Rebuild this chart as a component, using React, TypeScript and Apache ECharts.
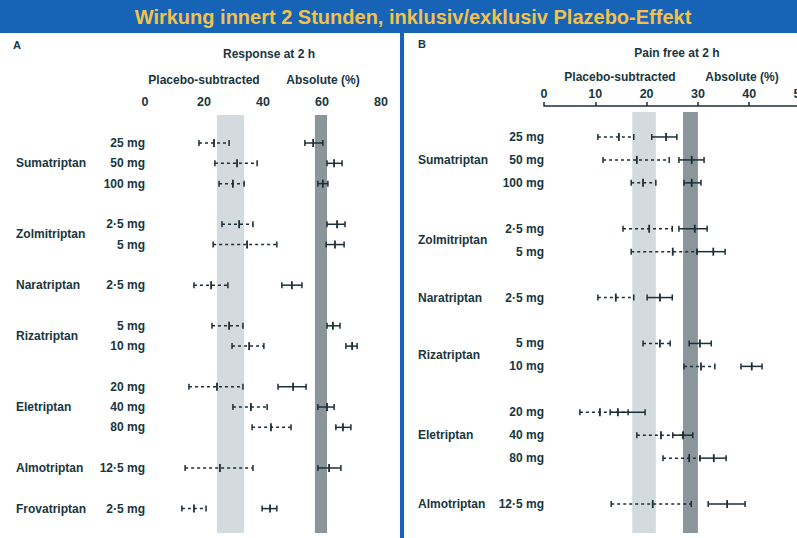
import React, { useEffect, useRef } from "react";
import * as echarts from "echarts";

// ---------- Panel A: Response at 2 h ----------
const drugsA = ["Sumatriptan", "Zolmitriptan", "Naratriptan", "Rizatriptan", "Eletriptan", "Almotriptan", "Frovatriptan"];
const dosesA = [["25 mg", "50 mg", "100 mg"], ["2·5 mg", "5 mg"], ["2·5 mg"], ["5 mg", "10 mg"], ["20 mg", "40 mg", "80 mg"], ["12·5 mg"], ["2·5 mg"]];
// [lower, estimate, upper]
const placeboSubA = [
  [18.3, 23.4, 28.5], [23.7, 31.2, 38.0], [25.1, 29.8, 33.6],
  [26.1, 31.9, 36.6], [23.1, 34.6, 44.7],
  [16.6, 22.4, 28.1],
  [22.7, 28.5, 33.2], [29.5, 35.3, 40.3],
  [14.9, 24.4, 33.2], [29.8, 35.9, 41.4], [36.3, 42.7, 49.5],
  [13.6, 25.4, 36.6],
  [12.5, 16.6, 20.7],
];
const absoluteA = [
  [54.2, 57.0, 60.3], [61.7, 64.1, 66.8], [58.6, 60.3, 62.0],
  [61.7, 65.1, 67.8], [61.4, 64.4, 67.5],
  [46.4, 49.8, 53.2],
  [61.7, 63.7, 66.1], [68.1, 70.2, 71.9],
  [45.1, 50.2, 54.6], [58.6, 61.7, 64.1], [64.7, 67.1, 69.8],
  [58.6, 62.4, 66.4],
  [39.7, 42.4, 44.7],
];
const placeboBandA = [24.4, 33.6];
const absoluteBandA = [57.6, 61.7];
const ticksA = [0, 20, 40, 60, 80];

// ---------- Panel B: Pain free at 2 h ----------
const drugsB = ["Sumatriptan", "Zolmitriptan", "Naratriptan", "Rizatriptan", "Eletriptan", "Almotriptan"];
const dosesB = [["25 mg", "50 mg", "100 mg"], ["2·5 mg", "5 mg"], ["2·5 mg"], ["5 mg", "10 mg"], ["20 mg", "40 mg", "80 mg"], ["12·5 mg"]];
const placeboSubB = [
  [10.5, 14.6, 17.5], [11.5, 18.1, 24.4], [17.0, 19.3, 21.8],
  [15.4, 20.5, 25.0], [17.0, 25.1, 29.8],
  [10.5, 14.0, 17.5],
  [19.3, 22.6, 24.6], [27.3, 30.6, 33.3],
  [7.0, 10.9, 16.4], [18.1, 22.8, 27.1], [23.2, 28.3, 30.4],
  [13.1, 21.2, 28.7],
];
const absoluteB = [
  [21.0, 23.8, 25.9], [26.3, 28.8, 31.2], [27.3, 28.8, 30.6],
  [26.3, 29.4, 31.8], [29.8, 33.0, 35.3],
  [20.1, 22.6, 25.0],
  [28.3, 30.4, 32.6], [38.4, 40.5, 42.5],
  [12.9, 14.4, 19.7], [25.1, 27.1, 29.0], [30.4, 33.1, 35.5],
  [32.0, 35.7, 39.2],
];
const placeboBandB = [17.2, 21.8];
const absoluteBandB = [27.1, 30.0];
const ticksB = [0, 10, 20, 30, 40, 50];

const TEXT = "#183640";
const MARK = "#1c2f36";
const BLUE = "#1763b6";
const FONT = "'Liberation Sans', Arial, sans-serif";

function buildRows(doses: string[][]) {
  const labels: string[] = [];
  const groups: number[][] = [];
  const rowIdx: number[] = [];
  doses.forEach((g, gi) => {
    if (gi > 0) labels.push("");
    const start = labels.length;
    g.forEach((d) => {
      rowIdx.push(labels.length);
      labels.push(d);
    });
    groups.push([start, labels.length - 1]);
  });
  return { labels, groups, rowIdx };
}

function ciRender(dashed: boolean) {
  return (params: any, api: any) => {
    const lo = api.value(0);
    const mid = api.value(1);
    const hi = api.value(2);
    const row = api.value(3);
    const a = api.coord([lo, row]);
    const m = api.coord([mid, row]);
    const b = api.coord([hi, row]);
    const y = a[1];
    const st = { stroke: MARK, lineWidth: 1.5 };
    return {
      type: "group",
      children: [
        { type: "line", shape: { x1: a[0], y1: y, x2: b[0], y2: y }, style: { ...st, lineDash: dashed ? [3, 3] : null } },
        { type: "line", shape: { x1: a[0], y1: y - 3, x2: a[0], y2: y + 3 }, style: st },
        { type: "line", shape: { x1: b[0], y1: y - 3, x2: b[0], y2: y + 3 }, style: st },
        { type: "line", shape: { x1: m[0], y1: y - 4, x2: m[0], y2: y + 4 }, style: { ...st, lineWidth: 1.8 } },
      ],
    };
  };
}

function bandRender(color: string, extTop: number, extBottom: number) {
  return (params: any, api: any) => {
    const cs = params.coordSys;
    const x0 = api.coord([api.value(0), 0])[0];
    const x1 = api.coord([api.value(1), 0])[0];
    return {
      type: "rect",
      shape: { x: x0, y: cs.y - extTop, width: x1 - x0, height: cs.height + extTop + extBottom },
      style: { fill: color },
    };
  };
}

function nameRender(xPix: number, names: string[]) {
  return (params: any, api: any) => {
    const y0 = api.coord([0, api.value(0)])[1];
    const y1 = api.coord([0, api.value(1)])[1];
    return {
      type: "text",
      x: xPix,
      y: (y0 + y1) / 2,
      style: {
        text: names[params.dataIndex],
        fill: TEXT,
        font: `bold 12px ${FONT}`,
        align: "left",
        verticalAlign: "middle",
      },
    };
  };
}

export default function App() {
  const ref = useRef<HTMLDivElement>(null);

  useEffect(() => {
    document.body.style.margin = "0";
    if (!ref.current) return;
    const chart = echarts.init(ref.current, null, { renderer: "svg" });

    const A = buildRows(dosesA);
    const B = buildRows(dosesB);

    const ciData = (vals: number[][], rows: number[]) => vals.map((v, i) => [v[0], v[1], v[2], rows[i]]);

    const axisLabelStyle = { color: TEXT, fontWeight: "bold", fontSize: 12.5, fontFamily: FONT };

    const option: any = {
      animation: false,
      backgroundColor: "#ffffff",
      grid: [
        { left: 145, width: 236, top: 132.85, height: 385.9, outerBoundsMode: "none", containLabel: false },
        { left: 544, width: 256.5, top: 125.5, height: 390, outerBoundsMode: "none", containLabel: false },
      ],
      xAxis: [
        {
          type: "value", gridIndex: 0, min: 0, max: 80, interval: 20, position: "top",
          axisLine: { show: false }, axisTick: { show: false }, splitLine: { show: false },
          axisLabel: { ...axisLabelStyle, margin: 24, formatter: (v: number) => (ticksA.includes(v) ? String(v) : "") },
        },
        {
          type: "value", gridIndex: 1, min: 0, max: 50, interval: 10, position: "top", offset: 19.5,
          axisLine: { show: true, lineStyle: { color: MARK, width: 1.5 } },
          axisTick: { show: true, length: 4, lineStyle: { color: MARK, width: 1.5 } },
          splitLine: { show: false },
          axisLabel: { ...axisLabelStyle, margin: 6, showMaxLabel: true, formatter: (v: number) => (ticksB.includes(v) ? String(v) : "") },
        },
      ],
      yAxis: [
        {
          type: "category", gridIndex: 0, data: A.labels, inverse: true,
          axisLine: { show: false }, axisTick: { show: false }, splitLine: { show: false },
          axisLabel: { color: TEXT, fontWeight: "bold", fontSize: 12, fontFamily: FONT, margin: 0, interval: 0 },
        },
        {
          type: "category", gridIndex: 1, data: B.labels, inverse: true,
          axisLine: { show: false }, axisTick: { show: false }, splitLine: { show: false },
          axisLabel: { color: TEXT, fontWeight: "bold", fontSize: 12, fontFamily: FONT, margin: 0, interval: 0 },
        },
      ],
      series: [
        { type: "custom", xAxisIndex: 0, yAxisIndex: 0, clip: false, z: 1, renderItem: bandRender("#d4dbdf", 17.85, 14.25), data: [placeboBandA] },
        { type: "custom", xAxisIndex: 0, yAxisIndex: 0, clip: false, z: 1, renderItem: bandRender("#8b969b", 17.85, 14.25), data: [absoluteBandA] },
        { type: "custom", xAxisIndex: 1, yAxisIndex: 1, clip: false, z: 1, renderItem: bandRender("#d4dbdf", 13.5, 17.5), data: [placeboBandB] },
        { type: "custom", xAxisIndex: 1, yAxisIndex: 1, clip: false, z: 1, renderItem: bandRender("#8b969b", 13.5, 17.5), data: [absoluteBandB] },
        { type: "custom", xAxisIndex: 0, yAxisIndex: 0, clip: false, z: 3, renderItem: ciRender(true), encode: { x: [0, 1, 2], y: 3 }, data: ciData(placeboSubA, A.rowIdx) },
        { type: "custom", xAxisIndex: 0, yAxisIndex: 0, clip: false, z: 3, renderItem: ciRender(false), encode: { x: [0, 1, 2], y: 3 }, data: ciData(absoluteA, A.rowIdx) },
        { type: "custom", xAxisIndex: 1, yAxisIndex: 1, clip: false, z: 3, renderItem: ciRender(true), encode: { x: [0, 1, 2], y: 3 }, data: ciData(placeboSubB, B.rowIdx) },
        { type: "custom", xAxisIndex: 1, yAxisIndex: 1, clip: false, z: 3, renderItem: ciRender(false), encode: { x: [0, 1, 2], y: 3 }, data: ciData(absoluteB, B.rowIdx) },
        { type: "custom", xAxisIndex: 0, yAxisIndex: 0, clip: false, z: 3, renderItem: nameRender(16, drugsA), encode: { y: [0, 1] }, data: A.groups.map((g) => [g[0], g[1]]) },
        { type: "custom", xAxisIndex: 1, yAxisIndex: 1, clip: false, z: 3, renderItem: nameRender(418, drugsB), encode: { y: [0, 1] }, data: B.groups.map((g) => [g[0], g[1]]) },
      ],
      graphic: [
        { type: "rect", shape: { x: 0, y: 0, width: 797, height: 33 }, style: { fill: BLUE }, z: 0 },
        { type: "rect", shape: { x: 400, y: 33, width: 4, height: 505 }, style: { fill: BLUE }, z: 0 },
        {
          type: "text", x: 413, y: 17,
          style: { text: "Wirkung innert 2 Stunden, inklusiv/exklusiv Plazebo-Effekt", fill: "#f2c24c", font: `bold 20px 'Liberation Sans Narrow', 'Arial Narrow', ${FONT}`, align: "center", verticalAlign: "middle" },
        },
        { type: "text", x: 13, y: 45, style: { text: "A", fill: TEXT, font: `bold 11px ${FONT}`, verticalAlign: "middle" } },
        { type: "text", x: 418, y: 44, style: { text: "B", fill: TEXT, font: `bold 11px ${FONT}`, verticalAlign: "middle" } },
        { type: "text", x: 269, y: 54, style: { text: "Response at 2 h", fill: TEXT, font: `bold 12px ${FONT}`, align: "center", verticalAlign: "middle" } },
        { type: "text", x: 204, y: 80, style: { text: "Placebo-subtracted", fill: TEXT, font: `bold 12px ${FONT}`, align: "center", verticalAlign: "middle" } },
        { type: "text", x: 323, y: 80, style: { text: "Absolute (%)", fill: TEXT, font: `bold 12px ${FONT}`, align: "center", verticalAlign: "middle" } },
        { type: "text", x: 677, y: 53, style: { text: "Pain free at 2 h", fill: TEXT, font: `bold 12px ${FONT}`, align: "center", verticalAlign: "middle" } },
        { type: "text", x: 620, y: 77, style: { text: "Placebo-subtracted", fill: TEXT, font: `bold 12px ${FONT}`, align: "center", verticalAlign: "middle" } },
        { type: "text", x: 742, y: 77, style: { text: "Absolute (%)", fill: TEXT, font: `bold 12px ${FONT}`, align: "center", verticalAlign: "middle" } },
      ],
    };

    chart.setOption(option);
    return () => chart.dispose();
  }, []);

  return <div ref={ref} style={{ width: 797, height: 538 }} />;
}
